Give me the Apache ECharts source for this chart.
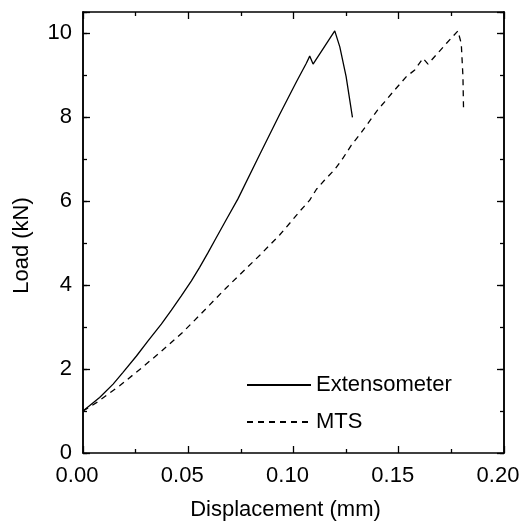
<!DOCTYPE html>
<html>
<head>
<meta charset="utf-8">
<script src="https://cdn.jsdelivr.net/npm/echarts@6/dist/echarts.min.js"></script>
<style>
  html, body { margin: 0; padding: 0; background: #fff; }
  #chart { width: 522px; height: 523px; }
</style>
</head>
<body>
<div id="chart"></div>
<script>
// values
const extX = [0, 0.0079, 0.0143, 0.019, 0.0254, 0.0309, 0.0372, 0.042, 0.0467, 0.0515, 0.0554, 0.0594, 0.0627, 0.0681, 0.0736, 0.0839, 0.0934, 0.1014, 0.1061, 0.1077, 0.1093, 0.1196, 0.120, 0.122, 0.125, 0.128]
const extY = [1.0, 1.32, 1.64, 1.92, 2.31, 2.67, 3.07, 3.40, 3.74, 4.10, 4.42, 4.77, 5.07, 5.56, 6.05, 7.10, 8.06, 8.84, 9.28, 9.45, 9.26, 10.05, 10.07, 9.67, 8.96, 7.99]
const mtsX = [0, 0.0064, 0.0174, 0.0277, 0.0372, 0.0475, 0.0554, 0.068, 0.084, 0.0934, 0.0982, 0.1029, 0.1077, 0.1109, 0.1148, 0.1196, 0.1235, 0.1275, 0.1322, 0.140, 0.1433, 0.1473, 0.1536, 0.1576, 0.1615, 0.1639, 0.1671, 0.1726, 0.1781, 0.1797, 0.1805, 0.1808]
const mtsY = [1.0, 1.20, 1.60, 2.02, 2.42, 2.88, 3.28, 3.93, 4.71, 5.19, 5.47, 5.75, 6.02, 6.28, 6.5, 6.75, 7.02, 7.33, 7.63, 8.17, 8.36, 8.60, 8.96, 9.12, 9.40, 9.26, 9.44, 9.75, 10.05, 9.75, 8.96, 8.13]
const seriesNames = ['Extensometer', 'MTS']
const xTicks = [0, 0.2, 0.05]
const yTicks = [0, 10.5, 2]

const font = 'Liberation Sans'
const black = '#000'

function pairs(xs, ys) {
  return xs.map((x, i) => [x, ys[i]])
}

function xAxisOf(pos, withLabel) {
  return {
    type: 'value',
    position: pos,
    min: xTicks[0],
    max: xTicks[1],
    interval: xTicks[2],
    axisLine: { show: true, onZero: false, lineStyle: { color: black, width: 1.5 } },
    axisTick: { show: true, inside: true, length: 7, lineStyle: { color: black, width: 1.3 } },
    minorTick: { show: true, splitNumber: 2, length: 4, lineStyle: { color: black, width: 1.3 } },
    splitLine: { show: false },
    axisLabel: {
      show: withLabel,
      margin: 12,
      padding: [0, 12, 0, 0],
      color: black,
      fontFamily: font,
      fontSize: 22,
      formatter: v => v.toFixed(2)
    }
  }
}

function yAxisOf(pos, step, len, withLabel) {
  return {
    type: 'value',
    position: pos,
    min: yTicks[0],
    max: yTicks[1],
    interval: step,
    axisLine: { show: true, onZero: false, lineStyle: { color: black, width: 1.5 } },
    axisTick: { show: true, inside: true, length: len, lineStyle: { color: black, width: 1.3 } },
    splitLine: { show: false },
    axisLabel: {
      show: withLabel,
      margin: 11,
      color: black,
      fontFamily: font,
      fontSize: 22,
      formatter: v => (v % 2 === 0 ? String(v) : '')
    }
  }
}

const chart = echarts.init(document.getElementById('chart'))

const yLeft = yAxisOf('left', yTicks[2], 7, true)
yLeft.name = 'Load (kN)'
yLeft.nameLocation = 'middle'
yLeft.nameGap = 50
yLeft.nameTextStyle = { color: black, fontFamily: font, fontSize: 22, padding: [0, 26, 0, 0] }

const xBottom = xAxisOf('bottom', true)
xBottom.name = 'Displacement (mm)'
xBottom.nameLocation = 'middle'
xBottom.nameGap = 46
xBottom.nameTextStyle = { color: black, fontFamily: font, fontSize: 22, padding: [0, 16, 0, 0] }

const option = {
  backgroundColor: '#ffffff',
  animation: false,
  grid: { left: 83, right: 18, top: 12, bottom: 70, containLabel: false, outerBoundsMode: 'none' },
  legend: {
    orient: 'vertical',
    left: 246,
    top: 374,
    padding: 0,
    itemWidth: 64,
    itemHeight: 14,
    itemGap: 15,
    data: seriesNames,
    itemStyle: { opacity: 0 },
    textStyle: { color: black, fontFamily: font, fontSize: 22 }
  },
  xAxis: [xBottom, xAxisOf('top', false)],
  yAxis: [
    yLeft,
    yAxisOf('left', 1, 4, false),
    yAxisOf('right', yTicks[2], 7, false),
    yAxisOf('right', 1, 4, false)
  ],
  series: [
    {
      name: seriesNames[0],
      type: 'line',
      xAxisIndex: 0,
      yAxisIndex: 0,
      symbol: 'none',
      color: black,
      lineStyle: { color: black, width: 1.3 },
      data: pairs(extX, extY)
    },
    {
      name: seriesNames[1],
      type: 'line',
      xAxisIndex: 0,
      yAxisIndex: 0,
      symbol: 'none',
      color: black,
      lineStyle: { color: black, width: 1.3, type: [6, 5] },
      data: pairs(mtsX, mtsY)
    }
  ]
}

chart.setOption(option)
</script>
</body>
</html>
